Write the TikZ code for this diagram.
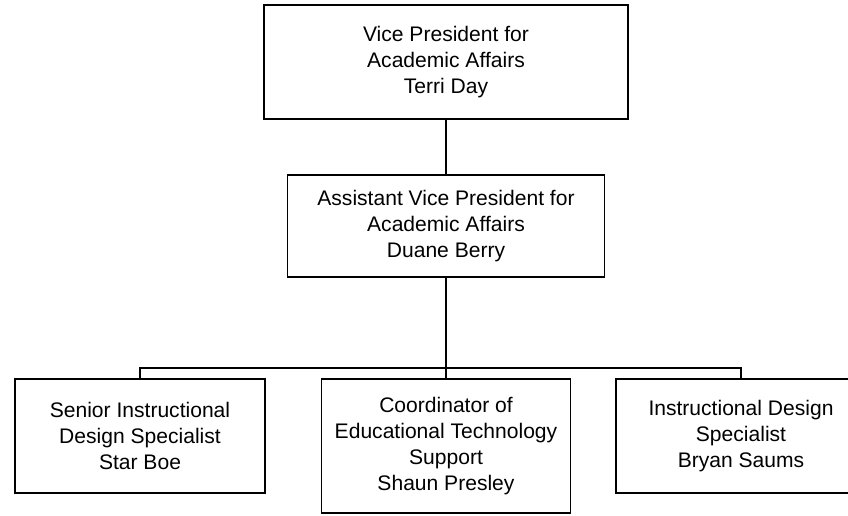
\documentclass[tikz,border=0pt]{standalone}
\usepackage{fontspec}
\setmainfont{Liberation Sans}

\begin{document}
\begin{tikzpicture}[x=0.75pt, y=-0.75pt, line width=1.4pt,
    box/.style={draw, rectangle, inner sep=0pt, align=center, font=\fontsize{15.8}{19.3}\selectfont},
    unit/.style={box, minimum width=187.5pt, minimum height=85.5pt}]

    \clip (0,0) rectangle (848,515);

    \node[box, minimum width=273pt, minimum height=85.5pt] (vp) at (446,62) {Vice President for\\Academic Affairs\\Terri Day};
    \node[box, minimum width=237.75pt, minimum height=76.5pt] (avp) at (446,226) {Assistant Vice President for\\Academic Affairs\\Duane Berry};

    \node[unit] (senior) at (140,436) {Senior Instructional\\Design Specialist\\Star Boe};
    \node[box, minimum width=186.75pt, minimum height=100.5pt] (coord) at (446,446) {Coordinator of\\Educational Technology\\Support\\Shaun Presley};
    \node[unit] (design) at (741,436) {Instructional Design\\Specialist\\Bryan Saums};

    \coordinate (bus) at (446,368);

    \draw (vp) -- (avp);
    \draw (avp) -- (bus);
    \draw (bus) -| (senior);
    \draw (bus) -| (design);
    \draw (bus) -- (coord);
\end{tikzpicture}
\end{document}
